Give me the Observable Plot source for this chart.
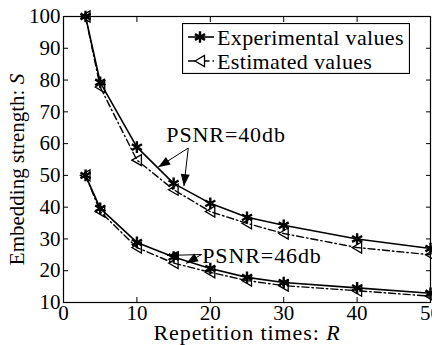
<!DOCTYPE html>
<html>
<head>
<meta charset="utf-8">
<script src="https://cdn.jsdelivr.net/npm/d3@7"></script>
<script src="https://cdn.jsdelivr.net/npm/@observablehq/plot@0.6"></script>
<style>
  html, body { margin: 0; padding: 0; background: #fff; overflow: hidden; }
  #wrap { position: relative; width: 432px; height: 345px; }
  #legend { position: absolute; left: 182px; top: 23px; }
  svg text { font-family: "Liberation Serif", "DejaVu Serif", "Times New Roman", serif !important; }
  .wide text, text.wide { letter-spacing: 0.9px; }
  text.legwide { letter-spacing: 0.35px; }
</style>
</head>
<body>
<div id="wrap"></div>
<script>
// ---- data ----
const R      = [3, 5, 10, 15, 20, 25, 30, 40, 50];
const exp40  = [100, 79.3, 58.9, 47.5, 41.2, 36.8, 34.3, 30.0, 27.0];
const est40  = [100, 77.8, 54.8, 45.5, 38.6, 34.9, 31.7, 27.3, 25.0];
const exp46  = [50, 39.6, 28.9, 24.3, 20.7, 17.9, 16.3, 14.6, 12.9];
const est46  = [50, 38.6, 27.3, 22.4, 19.5, 16.9, 15.3, 13.7, 12.0];
const xTicks = [0, 10, 20, 30, 40, 50];
const yTicks = [10, 20, 30, 40, 50, 60, 70, 80, 90, 100];
const legendLabels = ["Experimental values", "Estimated values"];
const annotLabels = [
  {text: "PSNR=40db", x: 14.0, y: 62.6},
  {text: "PSNR=46db", x: 18.9, y: 24.8}
];
const arrows = [
  {x1: 17.0, y1: 58.6, x2: 12.9, y2: 52.6},
  {x1: 17.0, y1: 58.6, x2: 16.4, y2: 46.6},
  {x1: 18.8, y1: 25.1, x2: 14.1, y2: 24.8},
  {x1: 18.8, y1: 25.1, x2: 16.7, y2: 22.3}
];

// ---- layout ----
const W = 432, H = 345, mL = 63, mR = 2, mT = 16, mB = 43;
const FONT = "'Liberation Serif', 'DejaVu Serif', 'Times New Roman', serif";
const FS = 21, FSW = 22;

const rows = [];
R.forEach((r, i) => {
  rows.push({R: r, S: exp40[i], series: "exp", group: "exp40"});
  rows.push({R: r, S: est40[i], series: "est", group: "est40"});
  rows.push({R: r, S: exp46[i], series: "exp", group: "exp46"});
  rows.push({R: r, S: est46[i], series: "est", group: "est46"});
});
const expRows = rows.filter(d => d.series === "exp");
const estRows = rows.filter(d => d.series === "est");

const leftTri = {draw(ctx) { ctx.moveTo(-5, 0); ctx.lineTo(4.5, -5.5); ctx.lineTo(4.5, 5.5); ctx.closePath(); }};
const head = {draw(ctx) { ctx.moveTo(0, 0); ctx.lineTo(-12, -4.5); ctx.lineTo(-12, 4.5); ctx.closePath(); }};
const DASH = "7,3,1.5,3";

const xs = Plot.scale({x: {domain: [0, 50], range: [mL, W - mR]}});
const ys = Plot.scale({y: {domain: [10, 100], range: [H - mB, mT]}});
arrows.forEach(a => {
  const dx = xs.apply(a.x2) - xs.apply(a.x1);
  const dy = ys.apply(a.y2) - ys.apply(a.y1);
  a.angle = Math.atan2(dy, dx) * 180 / Math.PI;
});

const chart = Plot.plot({
  width: W, height: H,
  marginLeft: mL, marginRight: mR, marginTop: mT, marginBottom: mB,
  style: {fontFamily: FONT, fontSize: FS + "px", background: "white", color: "black", overflow: "visible"},
  x: {domain: [0, 50], ticks: xTicks},
  y: {domain: [10, 100], ticks: yTicks},
  marks: [
    Plot.axisX(xTicks, {anchor: "bottom", tickSize: 0, tickPadding: 3, label: null, fontSize: FS, fontFamily: FONT}),
    Plot.axisX(xTicks, {anchor: "bottom", tickSize: -5, tickFormat: () => "", label: null}),
    Plot.axisX(xTicks, {anchor: "top", tickSize: -5, tickFormat: () => "", label: null}),
    Plot.axisY(yTicks, {anchor: "left", tickSize: 0, tickPadding: 3, label: null, fontSize: FS, fontFamily: FONT}),
    Plot.axisY(yTicks, {anchor: "left", tickSize: -5, tickFormat: () => "", label: null}),
    Plot.axisY(yTicks, {anchor: "right", tickSize: -5, tickFormat: () => "", label: null}),
    Plot.line(estRows, {x: "R", y: "S", z: "group", stroke: "black", strokeWidth: 1.4, strokeDasharray: DASH}),
    Plot.line(expRows, {x: "R", y: "S", z: "group", stroke: "black", strokeWidth: 1.6}),
    Plot.dot(estRows, {x: "R", y: "S", symbol: leftTri, r: 5, stroke: "black", strokeWidth: 1.3, fill: "none"}),
    Plot.dot(expRows, {x: "R", y: "S", symbol: "asterisk", r: 5.5, stroke: "black", strokeWidth: 2.4}),
    Plot.link(arrows, {x1: "x1", y1: "y1", x2: "x2", y2: "y2", stroke: "black", strokeWidth: 1}),
    Plot.dot(arrows, {x: "x2", y: "y2", symbol: head, r: 5, rotate: "angle", fill: "black", stroke: "none"}),
    Plot.text(annotLabels, {x: "x", y: "y", text: "text", textAnchor: "start", fill: "black", fontSize: FSW, fontFamily: FONT, className: "wide"}),
    Plot.text(["Repetition times: R"], {frameAnchor: "bottom", lineAnchor: "middle", dy: 30, fill: "black", fontSize: FSW, fontFamily: FONT, className: "wide"}),
    Plot.text(["Embedding strength: S"], {frameAnchor: "left", textAnchor: "middle", lineAnchor: "middle", rotate: -90, dx: -46, dy: 10, fill: "black", fontSize: FS, fontFamily: FONT}),
    Plot.frame({stroke: "black", strokeWidth: 1.2})
  ]
});

// italic variable letters in axis titles
chart.querySelectorAll("text").forEach(t => {
  const s = t.textContent;
  const m = s.match(/^(.*: )([RS])$/);
  if (m) {
    t.textContent = "";
    const a = document.createElementNS("http://www.w3.org/2000/svg", "tspan");
    a.textContent = m[1];
    const b = document.createElementNS("http://www.w3.org/2000/svg", "tspan");
    b.textContent = m[2];
    b.setAttribute("font-style", "italic");
    t.appendChild(a); t.appendChild(b);
  }
});

const wrap = document.getElementById("wrap");
wrap.appendChild(chart);

// ---- legend ----
const LW = 227, LH = 50;
const leg = d3.create("svg").attr("id", "legend").attr("width", LW + 1).attr("height", LH + 1)
  .style("font-size", FSW + "px");
leg.append("rect").attr("x", 0.5).attr("y", 0.5).attr("width", LW).attr("height", LH)
  .attr("fill", "white").attr("stroke", "black").attr("stroke-width", 1.2);
const rowY = [14, 38];
leg.append("line").attr("x1", 6).attr("x2", 32).attr("y1", rowY[0]).attr("y2", rowY[0])
  .attr("stroke", "black").attr("stroke-width", 1.6);
leg.append("path").attr("d", d3.symbol(d3.symbolAsterisk, 95)()).attr("transform", `translate(18,${rowY[0]})`)
  .attr("stroke", "black").attr("stroke-width", 2.4).attr("fill", "none");
leg.append("line").attr("x1", 6).attr("x2", 32).attr("y1", rowY[1]).attr("y2", rowY[1])
  .attr("stroke", "black").attr("stroke-width", 1.4).attr("stroke-dasharray", DASH);
leg.append("path").attr("d", d3.symbol(leftTri)()).attr("transform", `translate(18,${rowY[1]})`)
  .attr("stroke", "black").attr("stroke-width", 1.3).attr("fill", "white");
legendLabels.forEach((l, i) => {
  leg.append("text").attr("x", 35).attr("y", rowY[i]).attr("dy", "0.35em").attr("fill", "black")
    .attr("class", "legwide").text(l);
});
wrap.appendChild(leg.node());
</script>
</body>
</html>
